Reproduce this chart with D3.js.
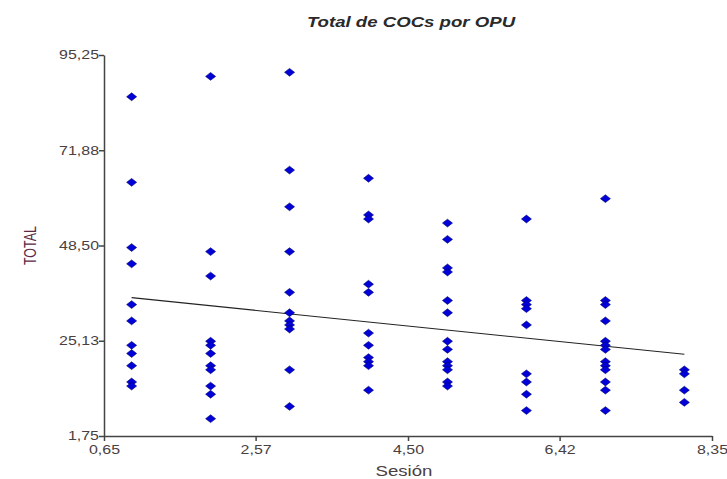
<!DOCTYPE html>
<html>
<head>
<meta charset="utf-8">
<script src="https://cdn.jsdelivr.net/npm/d3@7"></script>
<style>
  html, body { margin: 0; padding: 0; background: #ffffff; }
  svg { display: block; }
</style>
</head>
<body>
<svg id="chart" width="727" height="479"></svg>
<script>
// Total COCs per OPU, grouped by session
const sessions = [1, 2, 3, 4, 5, 6, 7, 8];
const totalS1 = [85, 64, 48, 44, 34, 30, 24, 22, 19, 15, 14];
const totalS2 = [90, 47, 41, 25, 24, 22, 19, 18, 14, 12, 6];
const totalS3 = [91, 67, 58, 47, 37, 32, 30, 29, 28, 18, 9];
const totalS4 = [65, 56, 55, 39, 37, 27, 24, 21, 20, 19, 13];
const totalS5 = [54, 50, 43, 42, 35, 32, 25, 23, 20, 19, 18, 15, 14];
const totalS6 = [55, 35, 34, 33, 29, 17, 15, 12, 8];
const totalS7 = [60, 35, 34, 30, 25, 24, 23, 20, 19, 18, 15, 13, 8];
const totalS8 = [18, 17, 13, 10];

// fitted trend line (session, total) at its two ends
const trendSessions = [1, 8];
const trendTotals = [35.7, 21.8];

const xTicks = [0.65, 2.57, 4.50, 6.42, 8.35];
const yTicks = [1.75, 25.13, 48.50, 71.88, 95.25];

const titleText = "Total de COCs por OPU";
const xLabel = "Sesión";
const yLabel = "TOTAL";

const totalsBySession = [totalS1, totalS2, totalS3, totalS4, totalS5, totalS6, totalS7, totalS8];
const points = [];
sessions.forEach((s, i) => totalsBySession[i].forEach(v => points.push({ s, v })));

const svg = d3.select("#chart");
const plotLeft = 104, plotRight = 712, plotTop = 55, plotBottom = 436;
const stretch = 1.33; // wide lettering used throughout the chart

const x = d3.scaleLinear().domain([0.65, 8.35]).range([plotLeft, plotRight]);
const y = d3.scaleLinear().domain([1.75, 95.25]).range([plotBottom, plotTop]);

const locale = d3.formatLocale({ decimal: ",", thousands: ".", grouping: [3], currency: ["", ""] });
const fmt = locale.format(".2f");

const axisColor = "#444444";
const textColor = "#4a4040";
const fontFamily = "Liberation Sans, Arial, sans-serif";

// title
svg.append("text")
  .attr("transform", `translate(411,27) scale(${stretch},1)`)
  .attr("text-anchor", "middle")
  .attr("font-family", fontFamily)
  .attr("font-size", 14)
  .attr("font-weight", "bold")
  .attr("font-style", "italic")
  .attr("fill", "#2a2a2a")
  .text(titleText);

// axes
const xAxis = d3.axisBottom(x).tickValues(xTicks).tickFormat(fmt).tickSize(5).tickSizeOuter(0);
const yAxis = d3.axisLeft(y).tickValues(yTicks).tickFormat(fmt).tickSize(5).tickSizeOuter(0);

const gx = svg.append("g").attr("transform", `translate(0,${plotBottom})`).call(xAxis);
const gy = svg.append("g").attr("transform", `translate(${plotLeft},0)`).call(yAxis);

[gx, gy].forEach(g => {
  g.select(".domain").attr("stroke", axisColor).attr("stroke-width", 1.5);
  g.selectAll(".tick line").attr("stroke", axisColor).attr("stroke-width", 1.5);
  g.selectAll(".tick text")
    .attr("fill", textColor)
    .attr("font-family", fontFamily)
    .attr("font-size", 12)
    .attr("transform", `scale(${stretch},1)`);
});
gx.selectAll(".tick text").attr("dy", "0.75em").attr("y", 9);
gy.selectAll(".tick text").attr("x", -5 / stretch);

// axis titles
svg.append("text")
  .attr("transform", `translate(${x(4.5) - 4},476) scale(${stretch},1)`)
  .attr("text-anchor", "middle")
  .attr("font-family", fontFamily)
  .attr("font-size", 14)
  .attr("fill", textColor)
  .text(xLabel);

svg.append("text")
  .attr("transform", `translate(36,${y(48.5)}) rotate(-90) scale(1,${stretch})`)
  .attr("text-anchor", "middle")
  .attr("font-family", fontFamily)
  .attr("font-size", 12.5)
  .attr("fill", "#5a2a45")
  .text(yLabel);

// trend line
const trend = trendSessions.map((s, i) => [s, trendTotals[i]]);
svg.append("path")
  .datum(trend)
  .attr("d", d3.line().x(d => x(d[0])).y(d => y(d[1])))
  .attr("fill", "none")
  .attr("stroke", "#222222")
  .attr("stroke-width", 1.1);

// observations as diamonds
const diamond = "M0,-3.9L5,0L0,3.9L-5,0Z";
svg.append("g")
  .selectAll("path")
  .data(points)
  .join("path")
  .attr("d", diamond)
  .attr("transform", d => `translate(${x(d.s)},${y(d.v)})`)
  .attr("fill", "#0000d8")
  .attr("stroke", "#000070")
  .attr("stroke-width", 0.6);
</script>
</body>
</html>
